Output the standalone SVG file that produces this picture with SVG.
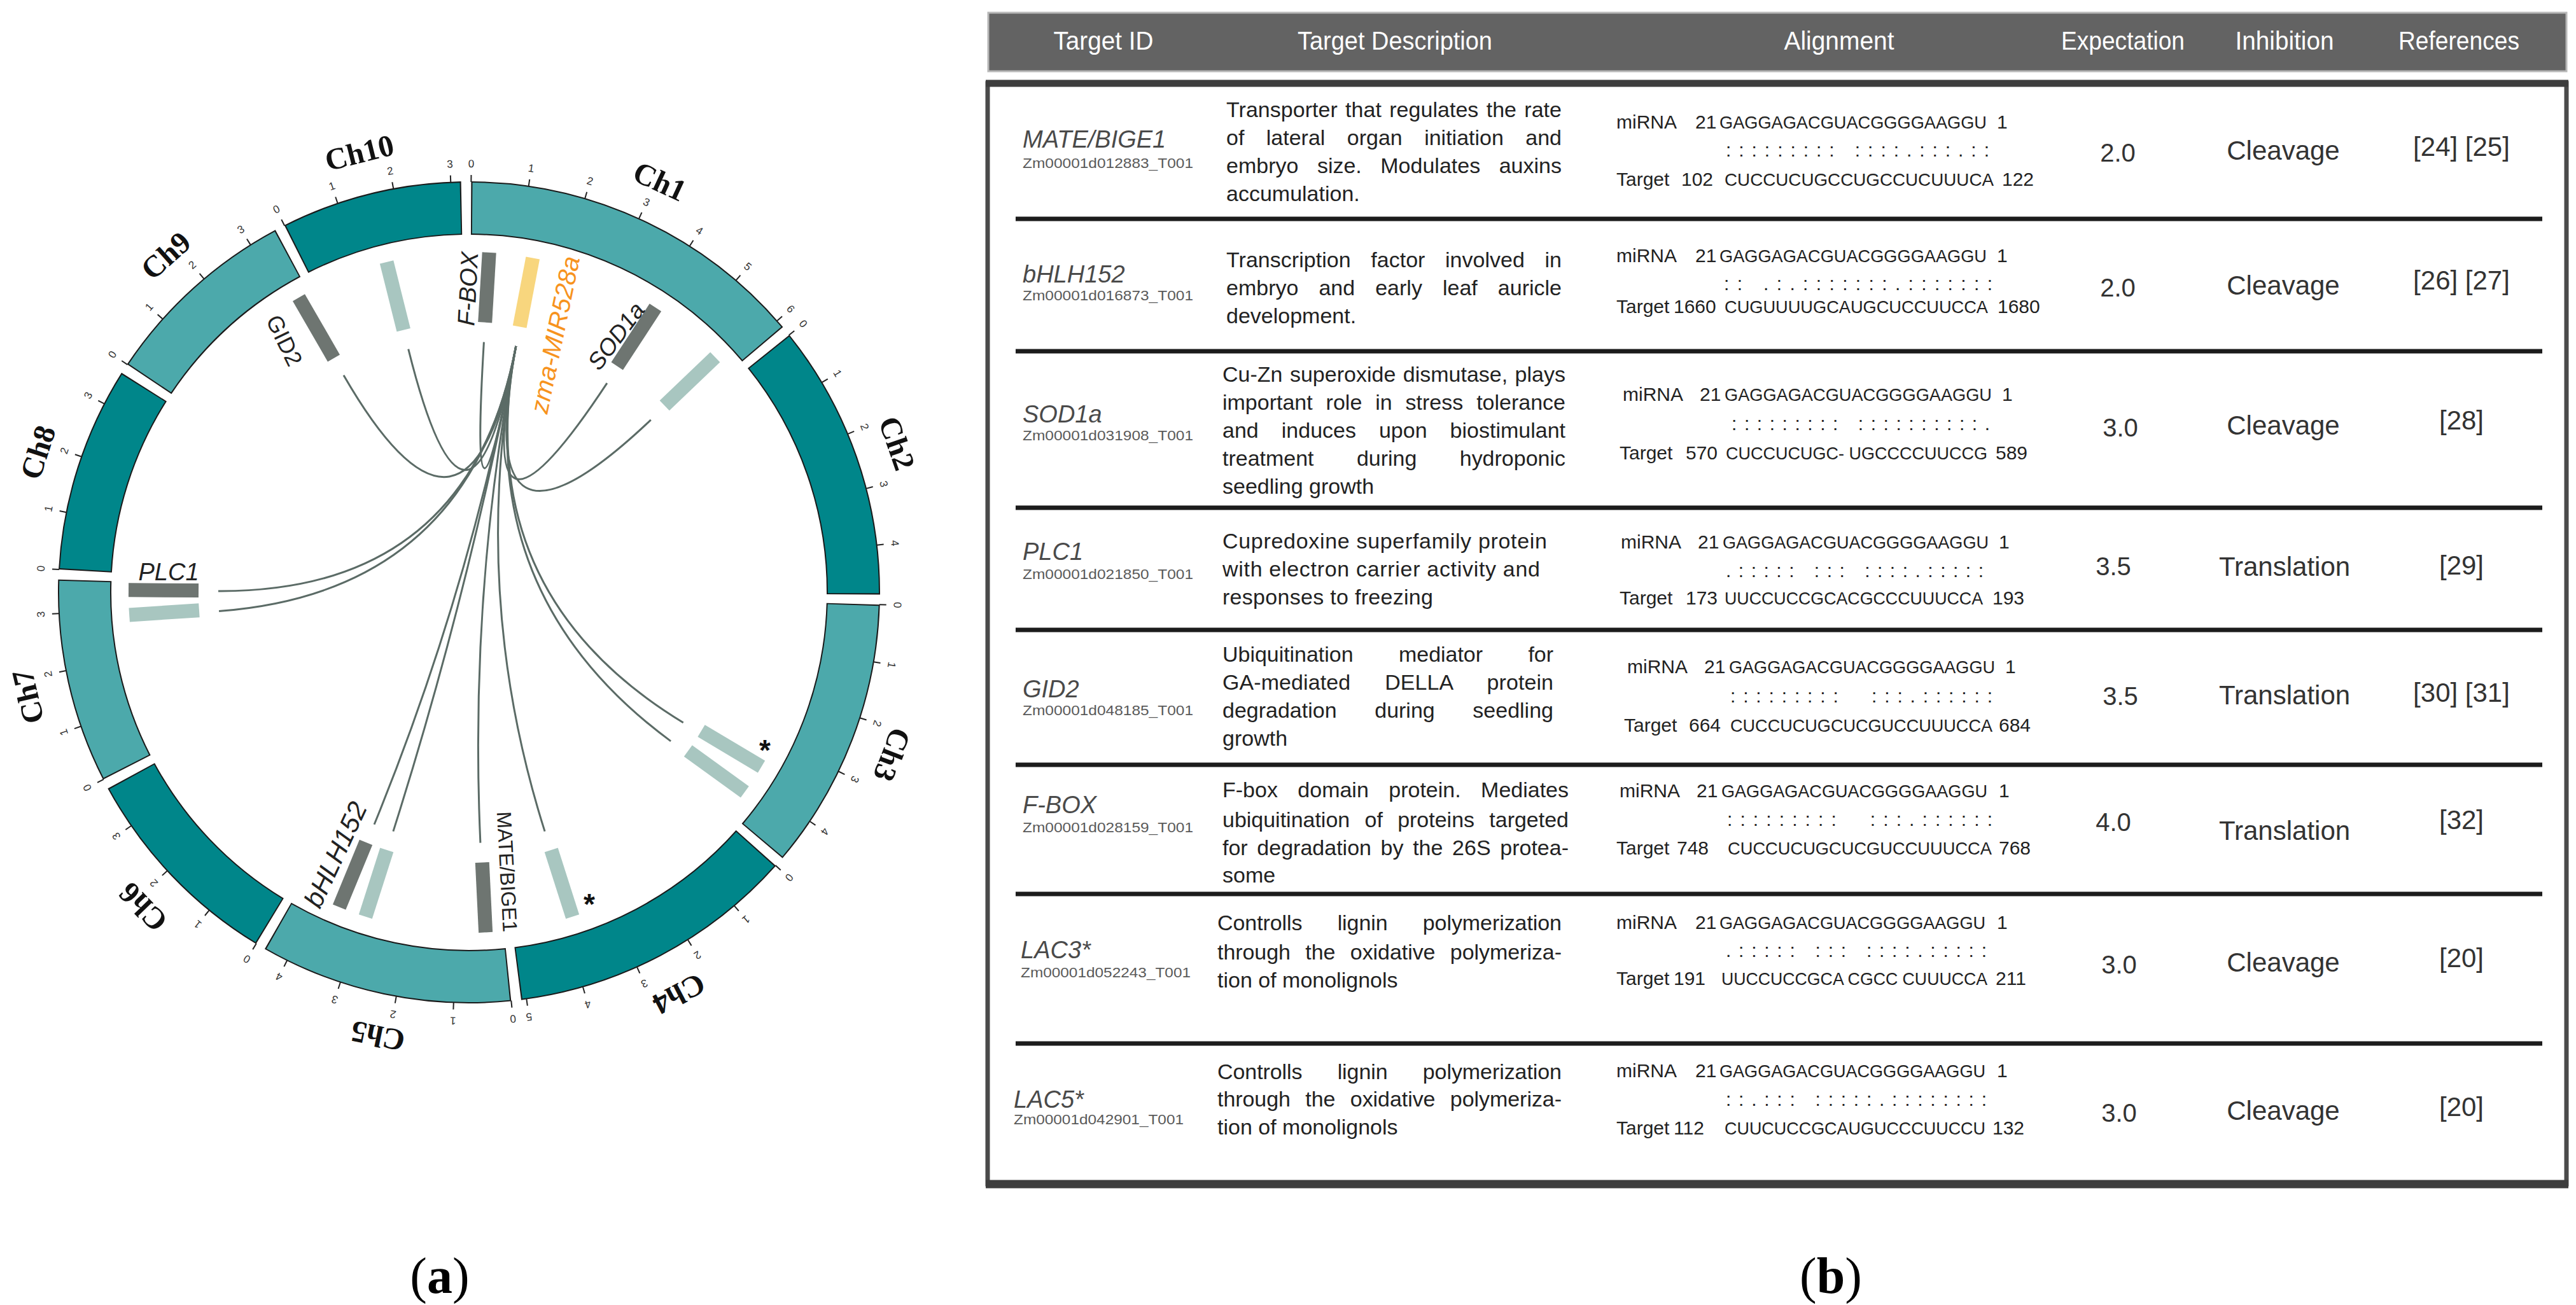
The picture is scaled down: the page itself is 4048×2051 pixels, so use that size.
<svg xmlns="http://www.w3.org/2000/svg" width="4048" height="2051" viewBox="0 0 4048 2051">
<style>
.cho{fill:none;stroke:#1a1a1a;stroke-width:84}
.dk{fill:none;stroke:#00868a;stroke-width:80}
.lt{fill:none;stroke:#4ca9ab;stroke-width:80}
.tk line{stroke:#222;stroke-width:2}
.tk text{font-family:"Liberation Sans",Arial,sans-serif;font-size:17px;fill:#333;text-anchor:middle}
.chl{font-family:"Liberation Serif","Times New Roman",serif;font-size:48px;font-weight:bold;fill:#111;text-anchor:middle}
.bd{fill:#6e7571}
.bl{fill:#a8c6c0}
.by{fill:#f8d67e}
.gl{font-family:"Liberation Sans",Arial,sans-serif;fill:#222;text-anchor:middle}
.it{font-style:italic}
.ast{font-family:"Liberation Sans",Arial,sans-serif;font-size:46px;font-weight:bold;fill:#111;text-anchor:middle}
.lk{fill:none;stroke:#5b6b66;stroke-width:3}
.hd{font-family:"Liberation Sans",Arial,sans-serif;font-size:40px;fill:#fff;text-anchor:middle}
.gn{font-family:"Liberation Sans",Arial,sans-serif;font-size:38px;font-style:italic;fill:#4a4a4a}
.id{font-family:"Liberation Sans",Arial,sans-serif;font-size:22px;fill:#5a5a5a}
.ds{font-family:"Liberation Sans",Arial,sans-serif;font-size:34px;fill:#222}
.al{font-family:"Liberation Sans",Arial,sans-serif;font-size:30px;fill:#222}
.sq{font-family:"Liberation Sans",Arial,sans-serif;font-size:28px;fill:#222}
.num{font-family:"Liberation Sans",Arial,sans-serif;font-size:40px;fill:#333;text-anchor:middle}
.inh{font-family:"Liberation Sans",Arial,sans-serif;font-size:42px;fill:#333;text-anchor:middle}
.sep{stroke:#1c1c1c;stroke-width:7}
.cap{font-family:"Liberation Serif","Times New Roman",serif;font-size:80px;fill:#000;text-anchor:middle}
</style>
<rect width="4048" height="2051" fill="#fff"/>

<!-- ===== Panel (a): circos ===== -->
<g id="chromosomes">
<g id="ch1">
<g transform="rotate(-89.7 737 931)"><circle class="cho" cx="737" cy="931" r="604" stroke-dasharray="521.8 4000"/><circle class="lt" cx="737" cy="931" r="604" stroke-dasharray="517.8 4000" stroke-dashoffset="-2"/></g>
<g class="tk" transform="rotate(0.3 737 931)"><line x1="737" y1="286" x2="737" y2="275"/><text x="737" y="263">0</text></g>
<g class="tk" transform="rotate(8.35 737 931)"><line x1="737" y1="286" x2="737" y2="275"/><text x="737" y="263">1</text></g>
<g class="tk" transform="rotate(16.4 737 931)"><line x1="737" y1="286" x2="737" y2="275"/><text x="737" y="263">2</text></g>
<g class="tk" transform="rotate(24.45 737 931)"><line x1="737" y1="286" x2="737" y2="275"/><text x="737" y="263">3</text></g>
<g class="tk" transform="rotate(32.5 737 931)"><line x1="737" y1="286" x2="737" y2="275"/><text x="737" y="263">4</text></g>
<g class="tk" transform="rotate(40.55 737 931)"><line x1="737" y1="286" x2="737" y2="275"/><text x="737" y="263">5</text></g>
<g class="tk" transform="rotate(48.6 737 931)"><line x1="737" y1="286" x2="737" y2="275"/><text x="737" y="263">6</text></g>
<text class="chl" transform="rotate(24.9 737 931)" x="737" y="235">Ch1</text>
</g>
<g id="ch2">
<g transform="rotate(-38.8 737 931)"><circle class="cho" cx="737" cy="931" r="604" stroke-dasharray="412.2 4000"/><circle class="dk" cx="737" cy="931" r="604" stroke-dasharray="408.2 4000" stroke-dashoffset="-2"/></g>
<g class="tk" transform="rotate(51.2 737 931)"><line x1="737" y1="286" x2="737" y2="275"/><text x="737" y="263">0</text></g>
<g class="tk" transform="rotate(59.25 737 931)"><line x1="737" y1="286" x2="737" y2="275"/><text x="737" y="263">1</text></g>
<g class="tk" transform="rotate(67.3 737 931)"><line x1="737" y1="286" x2="737" y2="275"/><text x="737" y="263">2</text></g>
<g class="tk" transform="rotate(75.35 737 931)"><line x1="737" y1="286" x2="737" y2="275"/><text x="737" y="263">3</text></g>
<g class="tk" transform="rotate(83.4 737 931)"><line x1="737" y1="286" x2="737" y2="275"/><text x="737" y="263">4</text></g>
<text class="chl" transform="rotate(70.8 737 931)" x="737" y="235">Ch2</text>
</g>
<g id="ch3">
<g transform="rotate(1.7 737 931)"><circle class="cho" cx="737" cy="931" r="604" stroke-dasharray="406.9 4000"/><circle class="lt" cx="737" cy="931" r="604" stroke-dasharray="402.9 4000" stroke-dashoffset="-2"/></g>
<g class="tk" transform="rotate(91.7 737 931)"><line x1="737" y1="286" x2="737" y2="275"/><text x="737" y="263">0</text></g>
<g class="tk" transform="rotate(99.75 737 931)"><line x1="737" y1="286" x2="737" y2="275"/><text x="737" y="263">1</text></g>
<g class="tk" transform="rotate(107.8 737 931)"><line x1="737" y1="286" x2="737" y2="275"/><text x="737" y="263">2</text></g>
<g class="tk" transform="rotate(115.85 737 931)"><line x1="737" y1="286" x2="737" y2="275"/><text x="737" y="263">3</text></g>
<g class="tk" transform="rotate(123.9 737 931)"><line x1="737" y1="286" x2="737" y2="275"/><text x="737" y="263">4</text></g>
<text class="chl" transform="rotate(111 737 931)" x="737" y="235">Ch3</text>
</g>
<g id="ch4">
<g transform="rotate(41.7 737 931)"><circle class="cho" cx="737" cy="931" r="604" stroke-dasharray="432.2 4000"/><circle class="dk" cx="737" cy="931" r="604" stroke-dasharray="428.2 4000" stroke-dashoffset="-2"/></g>
<g class="tk" transform="rotate(131.7 737 931)"><line x1="737" y1="286" x2="737" y2="275"/><text x="737" y="263">0</text></g>
<g class="tk" transform="rotate(139.75 737 931)"><line x1="737" y1="286" x2="737" y2="275"/><text x="737" y="263">1</text></g>
<g class="tk" transform="rotate(147.8 737 931)"><line x1="737" y1="286" x2="737" y2="275"/><text x="737" y="263">2</text></g>
<g class="tk" transform="rotate(155.85 737 931)"><line x1="737" y1="286" x2="737" y2="275"/><text x="737" y="263">3</text></g>
<g class="tk" transform="rotate(163.9 737 931)"><line x1="737" y1="286" x2="737" y2="275"/><text x="737" y="263">4</text></g>
<g class="tk" transform="rotate(171.95 737 931)"><line x1="737" y1="286" x2="737" y2="275"/><text x="737" y="263">5</text></g>
<text class="chl" transform="rotate(152.4 737 931)" x="737" y="235">Ch4</text>
</g>
<g id="ch5">
<g transform="rotate(84.1 737 931)"><circle class="cho" cx="737" cy="931" r="604" stroke-dasharray="376.3 4000"/><circle class="lt" cx="737" cy="931" r="604" stroke-dasharray="372.3 4000" stroke-dashoffset="-2"/></g>
<g class="tk" transform="rotate(174.1 737 931)"><line x1="737" y1="286" x2="737" y2="275"/><text x="737" y="263">0</text></g>
<g class="tk" transform="rotate(182.15 737 931)"><line x1="737" y1="286" x2="737" y2="275"/><text x="737" y="263">1</text></g>
<g class="tk" transform="rotate(190.2 737 931)"><line x1="737" y1="286" x2="737" y2="275"/><text x="737" y="263">2</text></g>
<g class="tk" transform="rotate(198.25 737 931)"><line x1="737" y1="286" x2="737" y2="275"/><text x="737" y="263">3</text></g>
<g class="tk" transform="rotate(206.3 737 931)"><line x1="737" y1="286" x2="737" y2="275"/><text x="737" y="263">4</text></g>
<text class="chl" transform="rotate(191.6 737 931)" x="737" y="235">Ch5</text>
</g>
<g id="ch6">
<g transform="rotate(121.2 737 931)"><circle class="cho" cx="737" cy="931" r="604" stroke-dasharray="319.4 4000"/><circle class="dk" cx="737" cy="931" r="604" stroke-dasharray="315.4 4000" stroke-dashoffset="-2"/></g>
<g class="tk" transform="rotate(211.2 737 931)"><line x1="737" y1="286" x2="737" y2="275"/><text x="737" y="263">0</text></g>
<g class="tk" transform="rotate(219.25 737 931)"><line x1="737" y1="286" x2="737" y2="275"/><text x="737" y="263">1</text></g>
<g class="tk" transform="rotate(227.3 737 931)"><line x1="737" y1="286" x2="737" y2="275"/><text x="737" y="263">2</text></g>
<g class="tk" transform="rotate(235.35 737 931)"><line x1="737" y1="286" x2="737" y2="275"/><text x="737" y="263">3</text></g>
<text class="chl" transform="rotate(226 737 931)" x="737" y="235">Ch6</text>
</g>
<g id="ch7">
<g transform="rotate(152.9 737 931)"><circle class="cho" cx="737" cy="931" r="604" stroke-dasharray="304.7 4000"/><circle class="lt" cx="737" cy="931" r="604" stroke-dasharray="300.7 4000" stroke-dashoffset="-2"/></g>
<g class="tk" transform="rotate(242.9 737 931)"><line x1="737" y1="286" x2="737" y2="275"/><text x="737" y="263">0</text></g>
<g class="tk" transform="rotate(250.95 737 931)"><line x1="737" y1="286" x2="737" y2="275"/><text x="737" y="263">1</text></g>
<g class="tk" transform="rotate(259 737 931)"><line x1="737" y1="286" x2="737" y2="275"/><text x="737" y="263">2</text></g>
<g class="tk" transform="rotate(267.05 737 931)"><line x1="737" y1="286" x2="737" y2="275"/><text x="737" y="263">3</text></g>
<text class="chl" transform="rotate(256.7 737 931)" x="737" y="235">Ch7</text>
</g>
<g id="ch8">
<g transform="rotate(183.2 737 931)"><circle class="cho" cx="737" cy="931" r="604" stroke-dasharray="306.8 4000"/><circle class="dk" cx="737" cy="931" r="604" stroke-dasharray="302.8 4000" stroke-dashoffset="-2"/></g>
<g class="tk" transform="rotate(273.2 737 931)"><line x1="737" y1="286" x2="737" y2="275"/><text x="737" y="263">0</text></g>
<g class="tk" transform="rotate(281.25 737 931)"><line x1="737" y1="286" x2="737" y2="275"/><text x="737" y="263">1</text></g>
<g class="tk" transform="rotate(289.3 737 931)"><line x1="737" y1="286" x2="737" y2="275"/><text x="737" y="263">2</text></g>
<g class="tk" transform="rotate(297.35 737 931)"><line x1="737" y1="286" x2="737" y2="275"/><text x="737" y="263">3</text></g>
<text class="chl" transform="rotate(288 737 931)" x="737" y="235">Ch8</text>
</g>
<g id="ch9">
<g transform="rotate(213.7 737 931)"><circle class="cho" cx="737" cy="931" r="604" stroke-dasharray="297.3 4000"/><circle class="lt" cx="737" cy="931" r="604" stroke-dasharray="293.3 4000" stroke-dashoffset="-2"/></g>
<g class="tk" transform="rotate(303.7 737 931)"><line x1="737" y1="286" x2="737" y2="275"/><text x="737" y="263">0</text></g>
<g class="tk" transform="rotate(311.75 737 931)"><line x1="737" y1="286" x2="737" y2="275"/><text x="737" y="263">1</text></g>
<g class="tk" transform="rotate(319.8 737 931)"><line x1="737" y1="286" x2="737" y2="275"/><text x="737" y="263">2</text></g>
<g class="tk" transform="rotate(327.85 737 931)"><line x1="737" y1="286" x2="737" y2="275"/><text x="737" y="263">3</text></g>
<text class="chl" transform="rotate(318 737 931)" x="737" y="235">Ch9</text>
</g>
<g id="ch10">
<g transform="rotate(243.3 737 931)"><circle class="cho" cx="737" cy="931" r="604" stroke-dasharray="269.9 4000"/><circle class="dk" cx="737" cy="931" r="604" stroke-dasharray="265.9 4000" stroke-dashoffset="-2"/></g>
<g class="tk" transform="rotate(333.3 737 931)"><line x1="737" y1="286" x2="737" y2="275"/><text x="737" y="263">0</text></g>
<g class="tk" transform="rotate(341.35 737 931)"><line x1="737" y1="286" x2="737" y2="275"/><text x="737" y="263">1</text></g>
<g class="tk" transform="rotate(349.4 737 931)"><line x1="737" y1="286" x2="737" y2="275"/><text x="737" y="263">2</text></g>
<g class="tk" transform="rotate(357.45 737 931)"><line x1="737" y1="286" x2="737" y2="275"/><text x="737" y="263">3</text></g>
<text class="chl" transform="rotate(346 737 931)" x="737" y="235">Ch10</text>
</g>
</g>

<g id="links">
<path class="lk" d="M810.8 544 Q737 931 760.4 537.7"/>
<path class="lk" d="M810.8 544 Q737 931 641.7 548.7"/>
<path class="lk" d="M810.8 544 Q737 931 540 589.8"/>
<path class="lk" d="M810.8 544 Q737 931 953.9 602.1"/>
<path class="lk" d="M810.8 544 Q737 931 1022.8 659.8"/>
<path class="lk" d="M810.8 544 Q737 931 343 928.9"/>
<path class="lk" d="M810.8 544 Q737 931 344.1 960.5"/>
<path class="lk" d="M810.8 544 Q737 931 1073.7 1135.7"/>
<path class="lk" d="M810.8 544 Q737 931 1054.1 1164.9"/>
<path class="lk" d="M810.8 544 Q737 931 856.1 1306.6"/>
<path class="lk" d="M810.8 544 Q737 931 754.9 1324.6"/>
<path class="lk" d="M810.8 544 Q737 931 617.9 1306.6"/>
<path class="lk" d="M810.8 544 Q737 931 588.1 1295.8"/>
</g>

<g id="mir528a"><rect class="by" x="726" y="396" width="22" height="110" transform="rotate(10.8 737 931)"/><text class="gl it" font-size="40" style="fill:#f7931e" transform="translate(872 526) rotate(-78.2)" dy="0.35em">zma-MIR528a</text></g>
<g id="fbox"><rect class="bd" x="726" y="396" width="22" height="110" transform="rotate(3.4 737 931)"/><text class="gl it" font-size="38" transform="translate(735 454) rotate(-87)" dy="0.35em">F-BOX</text></g>
<g id="ch10-target"><rect class="bl" x="726" y="396" width="22" height="110" transform="rotate(346 737 931)"/></g>
<g id="gid2"><rect class="bd" x="726" y="396" width="22" height="110" transform="rotate(330 737 931)"/><text class="gl" font-size="36" transform="translate(447 535) rotate(64)" dy="0.35em">GID2</text></g>
<g id="sod1a"><rect class="bd" x="726" y="396" width="22" height="110" transform="rotate(33.2 737 931)"/><text class="gl it" font-size="37" transform="translate(968 528) rotate(-53)" dy="0.35em">SOD1a</text></g>
<g id="ch1-target"><rect class="bl" x="726" y="396" width="22" height="110" transform="rotate(46.3 737 931)"/></g>
<g id="plc1"><rect class="bd" x="726" y="396" width="22" height="110" transform="rotate(270.4 737 931)"/><text class="gl it" font-size="38" x="265" y="912">PLC1</text></g>
<g id="plc1-b"><rect class="bl" x="726" y="396" width="22" height="110" transform="rotate(266.2 737 931)"/></g>
<g id="lac3"><rect class="bl" x="726" y="396" width="22" height="110" transform="rotate(120.8 737 931)"/><text class="ast" x="1202" y="1195">*</text></g>
<g id="lac5"><rect class="bl" x="726" y="396" width="22" height="110" transform="rotate(125.9 737 931)"/></g>
<g id="ch4-target"><rect class="bl" x="726" y="396" width="22" height="110" transform="rotate(162.3 737 931)"/><text class="ast" x="926" y="1437">*</text></g>
<g id="mate"><rect class="bd" x="726" y="396" width="22" height="110" transform="rotate(177.2 737 931)"/><text class="gl" font-size="32" transform="translate(797 1370) rotate(87)" dy="0.35em">MATE/BIGE1</text></g>
<g id="bhlh152-b"><rect class="bl" x="726" y="396" width="22" height="110" transform="rotate(197.7 737 931)"/></g>
<g id="bhlh152"><rect class="bd" x="726" y="396" width="22" height="110" transform="rotate(202.4 737 931)"/><text class="gl it" font-size="42" transform="translate(527 1343) rotate(-65)" dy="0.35em">bHLH152</text></g>

<text class="cap" x="691" y="2032">(<tspan font-weight="bold">a</tspan>)</text>

<!-- ===== Panel (b): table ===== -->
<g id="table-header">
<rect x="1553" y="20" width="2480" height="92" fill="#636363" stroke="#b8b8b8" stroke-width="3"/>
<text class="hd" x="1734" y="78" textLength="157" lengthAdjust="spacingAndGlyphs">Target ID</text>
<text class="hd" x="2192" y="78" textLength="306" lengthAdjust="spacingAndGlyphs">Target Description</text>
<text class="hd" x="2890" y="78" textLength="173" lengthAdjust="spacingAndGlyphs">Alignment</text>
<text class="hd" x="3336" y="78" textLength="194" lengthAdjust="spacingAndGlyphs">Expectation</text>
<text class="hd" x="3590" y="78" textLength="155" lengthAdjust="spacingAndGlyphs">Inhibition</text>
<text class="hd" x="3864" y="78" textLength="190" lengthAdjust="spacingAndGlyphs">References</text>
</g>
<g id="table-frame">
<rect x="1552" y="131" width="2481" height="1730" fill="none" stroke="#4a4a4a" stroke-width="7"/>
<line x1="1549" y1="131" x2="4036" y2="131" stroke="#3d3d3d" stroke-width="11"/>
<line x1="1549" y1="1861" x2="4036" y2="1861" stroke="#3d3d3d" stroke-width="13"/>
<line class="sep" x1="1596" y1="344" x2="3995" y2="344"/>
<line class="sep" x1="1596" y1="552" x2="3995" y2="552"/>
<line class="sep" x1="1596" y1="798" x2="3995" y2="798"/>
<line class="sep" x1="1596" y1="990" x2="3995" y2="990"/>
<line class="sep" x1="1596" y1="1202" x2="3995" y2="1202"/>
<line class="sep" x1="1596" y1="1405" x2="3995" y2="1405"/>
<line class="sep" x1="1596" y1="1640" x2="3995" y2="1640"/>
</g>

<g id="row-mate">
<text class="gn" x="1607" y="232">MATE/BIGE1</text>
<text class="id" x="1607" y="264" textLength="268" lengthAdjust="spacingAndGlyphs">Zm00001d012883_T001</text>
<text class="ds" x="1927" y="184" word-spacing="2.8" textLength="527">Transporter that regulates the rate</text>
<text class="ds" x="1927" y="228" word-spacing="25" textLength="527">of lateral organ initiation and</text>
<text class="ds" x="1927" y="272" word-spacing="20" textLength="527">embryo size. Modulates auxins</text>
<text class="ds" x="1927" y="316">accumulation.</text>
<text class="al" y="202"><tspan x="2540">miRNA</tspan><tspan x="2664">21</tspan></text>
<text class="sq" x="2702" y="202" textLength="420" lengthAdjust="spacingAndGlyphs">GAGGAGACGUACGGGGAAGGU</text>
<text class="al" x="3138" y="202">1</text>
<text class="al" x="2712" y="246" textLength="414" lengthAdjust="spacing">:::::::::&#160;::::.:::.::</text>
<text class="al" y="292"><tspan x="2540">Target</tspan><tspan x="2642">102</tspan></text>
<text class="sq" x="2710" y="292" textLength="423" lengthAdjust="spacingAndGlyphs">CUCCUCUGCCUGCCUCUUUCA</text>
<text class="al" x="3146" y="292">122</text>
<text class="num" x="3328" y="254">2.0</text>
<text class="inh" x="3588" y="251">Cleavage</text>
<text class="inh" x="3868" y="245">[24] [25]</text>
</g>

<g id="row-bhlh152">
<text class="gn" x="1607" y="444">bHLH152</text>
<text class="id" x="1607" y="472" textLength="268" lengthAdjust="spacingAndGlyphs">Zm00001d016873_T001</text>
<text class="ds" x="1927" y="420" word-spacing="22" textLength="527">Transcription factor involved in</text>
<text class="ds" x="1927" y="464" word-spacing="22.6" textLength="527">embryo and early leaf auricle</text>
<text class="ds" x="1927" y="508">development.</text>
<text class="al" y="412"><tspan x="2540">miRNA</tspan><tspan x="2664">21</tspan></text>
<text class="sq" x="2702" y="412" textLength="420" lengthAdjust="spacingAndGlyphs">GAGGAGACGUACGGGGAAGGU</text>
<text class="al" x="3138" y="412">1</text>
<text class="al" x="2709" y="456" textLength="422" lengthAdjust="spacing">::&#160;.:.:::::::.:::::::</text>
<text class="al" y="492"><tspan x="2540">Target</tspan><tspan x="2630">1660</tspan></text>
<text class="sq" x="2710" y="492" textLength="414" lengthAdjust="spacingAndGlyphs">CUGUUUUGCAUGCUCCUUCCA</text>
<text class="al" x="3139" y="492">1680</text>
<text class="num" x="3328" y="466">2.0</text>
<text class="inh" x="3588" y="463">Cleavage</text>
<text class="inh" x="3868" y="455">[26] [27]</text>
</g>

<g id="row-sod1a">
<text class="gn" x="1607" y="664">SOD1a</text>
<text class="id" x="1607" y="692" textLength="268" lengthAdjust="spacingAndGlyphs">Zm00001d031908_T001</text>
<text class="ds" x="1921" y="600" word-spacing="2" textLength="539">Cu-Zn superoxide dismutase, plays</text>
<text class="ds" x="1921" y="644" word-spacing="11.5" textLength="539">important role in stress tolerance</text>
<text class="ds" x="1921" y="688" word-spacing="26.6" textLength="539">and induces upon biostimulant</text>
<text class="ds" x="1921" y="732" word-spacing="57.9" textLength="539">treatment during hydroponic</text>
<text class="ds" x="1921" y="776">seedling growth</text>
<text class="al" y="630"><tspan x="2550">miRNA</tspan><tspan x="2671">21</tspan></text>
<text class="sq" x="2710" y="630" textLength="420" lengthAdjust="spacingAndGlyphs">GAGGAGACGUACGGGGAAGGU</text>
<text class="al" x="3146" y="630">1</text>
<text class="al" x="2721" y="676" textLength="406" lengthAdjust="spacing">:::::::::&#160;::::::::::.</text>
<text class="al" y="722"><tspan x="2545">Target</tspan><tspan x="2649">570</tspan></text>
<text class="sq" x="2712" y="722" textLength="411" lengthAdjust="spacingAndGlyphs">CUCCUCUGC- UGCCCCUUCCG</text>
<text class="al" x="3136" y="722">589</text>
<text class="num" x="3332" y="686">3.0</text>
<text class="inh" x="3588" y="683">Cleavage</text>
<text class="inh" x="3868" y="675">[28]</text>
</g>

<g id="row-plc1">
<text class="gn" x="1607" y="880">PLC1</text>
<text class="id" x="1607" y="910" textLength="268" lengthAdjust="spacingAndGlyphs">Zm00001d021850_T001</text>
<text class="ds" x="1921" y="862" textLength="510">Cupredoxine superfamily protein</text>
<text class="ds" x="1921" y="906" textLength="499">with electron carrier activity and</text>
<text class="ds" x="1921" y="950" textLength="331">responses to freezing</text>
<text class="al" y="862"><tspan x="2547">miRNA</tspan><tspan x="2668">21</tspan></text>
<text class="sq" x="2707" y="862" textLength="418" lengthAdjust="spacingAndGlyphs">GAGGAGACGUACGGGGAAGGU</text>
<text class="al" x="3141" y="862">1</text>
<text class="al" x="2712" y="907" textLength="405" lengthAdjust="spacing">.:::::&#160;:::&#160;::::.:::::</text>
<text class="al" y="950"><tspan x="2545">Target</tspan><tspan x="2649">173</tspan></text>
<text class="sq" x="2710" y="950" textLength="406" lengthAdjust="spacingAndGlyphs">UUCCUCCGCACGCCCUUUCCA</text>
<text class="al" x="3131" y="950">193</text>
<text class="num" x="3321" y="904">3.5</text>
<text class="inh" x="3590" y="905">Translation</text>
<text class="inh" x="3868" y="903">[29]</text>
</g>

<g id="row-gid2">
<text class="gn" x="1607" y="1096">GID2</text>
<text class="id" x="1607" y="1124" textLength="268" lengthAdjust="spacingAndGlyphs">Zm00001d048185_T001</text>
<text class="ds" x="1921" y="1040" word-spacing="62" textLength="520">Ubiquitination mediator for</text>
<text class="ds" x="1921" y="1084" word-spacing="44.6" textLength="520">GA-mediated DELLA protein</text>
<text class="ds" x="1921" y="1128" word-spacing="50.2" textLength="520">degradation during seedling</text>
<text class="ds" x="1921" y="1172">growth</text>
<text class="al" y="1058"><tspan x="2557">miRNA</tspan><tspan x="2678">21</tspan></text>
<text class="sq" x="2717" y="1058" textLength="418" lengthAdjust="spacingAndGlyphs">GAGGAGACGUACGGGGAAGGU</text>
<text class="al" x="3151" y="1058">1</text>
<text class="al" x="2719" y="1104" textLength="412" lengthAdjust="spacing">:::::::::&#160;&#160;:::.::::::</text>
<text class="al" y="1150"><tspan x="2552">Target</tspan><tspan x="2654">664</tspan></text>
<text class="sq" x="2719" y="1150" textLength="412" lengthAdjust="spacingAndGlyphs">CUCCUCUGCUCGUCCUUUCCA</text>
<text class="al" x="3141" y="1150">684</text>
<text class="num" x="3332" y="1108">3.5</text>
<text class="inh" x="3590" y="1107">Translation</text>
<text class="inh" x="3868" y="1103">[30] [31]</text>
</g>

<g id="row-fbox">
<text class="gn" x="1607" y="1278">F-BOX</text>
<text class="id" x="1607" y="1308" textLength="268" lengthAdjust="spacingAndGlyphs">Zm00001d028159_T001</text>
<text class="ds" x="1921" y="1253" word-spacing="22" textLength="544">F-box domain protein. Mediates</text>
<text class="ds" x="1921" y="1300" word-spacing="13.9" textLength="544">ubiquitination of proteins targeted</text>
<text class="ds" x="1921" y="1344" word-spacing="5.2" textLength="544">for degradation by the 26S protea-</text>
<text class="ds" x="1921" y="1387">some</text>
<text class="al" y="1253"><tspan x="2545">miRNA</tspan><tspan x="2666">21</tspan></text>
<text class="sq" x="2705" y="1253" textLength="418" lengthAdjust="spacingAndGlyphs">GAGGAGACGUACGGGGAAGGU</text>
<text class="al" x="3141" y="1253">1</text>
<text class="al" x="2714" y="1298" textLength="417" lengthAdjust="spacing">:::::::::&#160;&#160;:::.::::::</text>
<text class="al" y="1343"><tspan x="2540">Target</tspan><tspan x="2635">748</tspan></text>
<text class="sq" x="2715" y="1343" textLength="415" lengthAdjust="spacingAndGlyphs">CUCCUCUGCUCGUCCUUUCCA</text>
<text class="al" x="3141" y="1343">768</text>
<text class="num" x="3321" y="1306">4.0</text>
<text class="inh" x="3590" y="1320">Translation</text>
<text class="inh" x="3868" y="1303">[32]</text>
</g>

<g id="row-lac3">
<text class="gn" x="1604" y="1506">LAC3*</text>
<text class="id" x="1604" y="1536" textLength="267" lengthAdjust="spacingAndGlyphs">Zm00001d052243_T001</text>
<text class="ds" x="1913" y="1462" word-spacing="45.8" textLength="541">Controlls lignin polymerization</text>
<text class="ds" x="1913" y="1508" word-spacing="14" textLength="541">through the oxidative polymeriza-</text>
<text class="ds" x="1913" y="1552">tion of monolignols</text>
<text class="al" y="1460"><tspan x="2540">miRNA</tspan><tspan x="2664">21</tspan></text>
<text class="sq" x="2702" y="1460" textLength="418" lengthAdjust="spacingAndGlyphs">GAGGAGACGUACGGGGAAGGU</text>
<text class="al" x="3138" y="1460">1</text>
<text class="al" x="2712" y="1504" textLength="410" lengthAdjust="spacing">.:::::&#160;:::&#160;::::.:::::</text>
<text class="al" y="1548"><tspan x="2540">Target</tspan><tspan x="2630">191</tspan></text>
<text class="sq" x="2705" y="1548" textLength="418" lengthAdjust="spacingAndGlyphs">UUCCUCCGCA CGCC CUUUCCA</text>
<text class="al" x="3136" y="1548">211</text>
<text class="num" x="3330" y="1530">3.0</text>
<text class="inh" x="3588" y="1527">Cleavage</text>
<text class="inh" x="3868" y="1520">[20]</text>
</g>

<g id="row-lac5">
<text class="gn" x="1593" y="1741">LAC5*</text>
<text class="id" x="1593" y="1767" textLength="267" lengthAdjust="spacingAndGlyphs">Zm00001d042901_T001</text>
<text class="ds" x="1913" y="1696" word-spacing="45.8" textLength="541">Controlls lignin polymerization</text>
<text class="ds" x="1913" y="1739" word-spacing="14" textLength="541">through the oxidative polymeriza-</text>
<text class="ds" x="1913" y="1783">tion of monolignols</text>
<text class="al" y="1693"><tspan x="2540">miRNA</tspan><tspan x="2664">21</tspan></text>
<text class="sq" x="2702" y="1693" textLength="418" lengthAdjust="spacingAndGlyphs">GAGGAGACGUACGGGGAAGGU</text>
<text class="al" x="3138" y="1693">1</text>
<text class="al" x="2712" y="1738" textLength="410" lengthAdjust="spacing">::.:::&#160;:::::.::::::::</text>
<text class="al" y="1783"><tspan x="2540">Target</tspan><tspan x="2630">112</tspan></text>
<text class="sq" x="2710" y="1783" textLength="410" lengthAdjust="spacingAndGlyphs">CUUCUCCGCAUGUCCCUUCCU</text>
<text class="al" x="3131" y="1783">132</text>
<text class="num" x="3330" y="1763">3.0</text>
<text class="inh" x="3588" y="1760">Cleavage</text>
<text class="inh" x="3868" y="1754">[20]</text>
</g>

<text class="cap" x="2877" y="2032">(<tspan font-weight="bold">b</tspan>)</text>
</svg>
